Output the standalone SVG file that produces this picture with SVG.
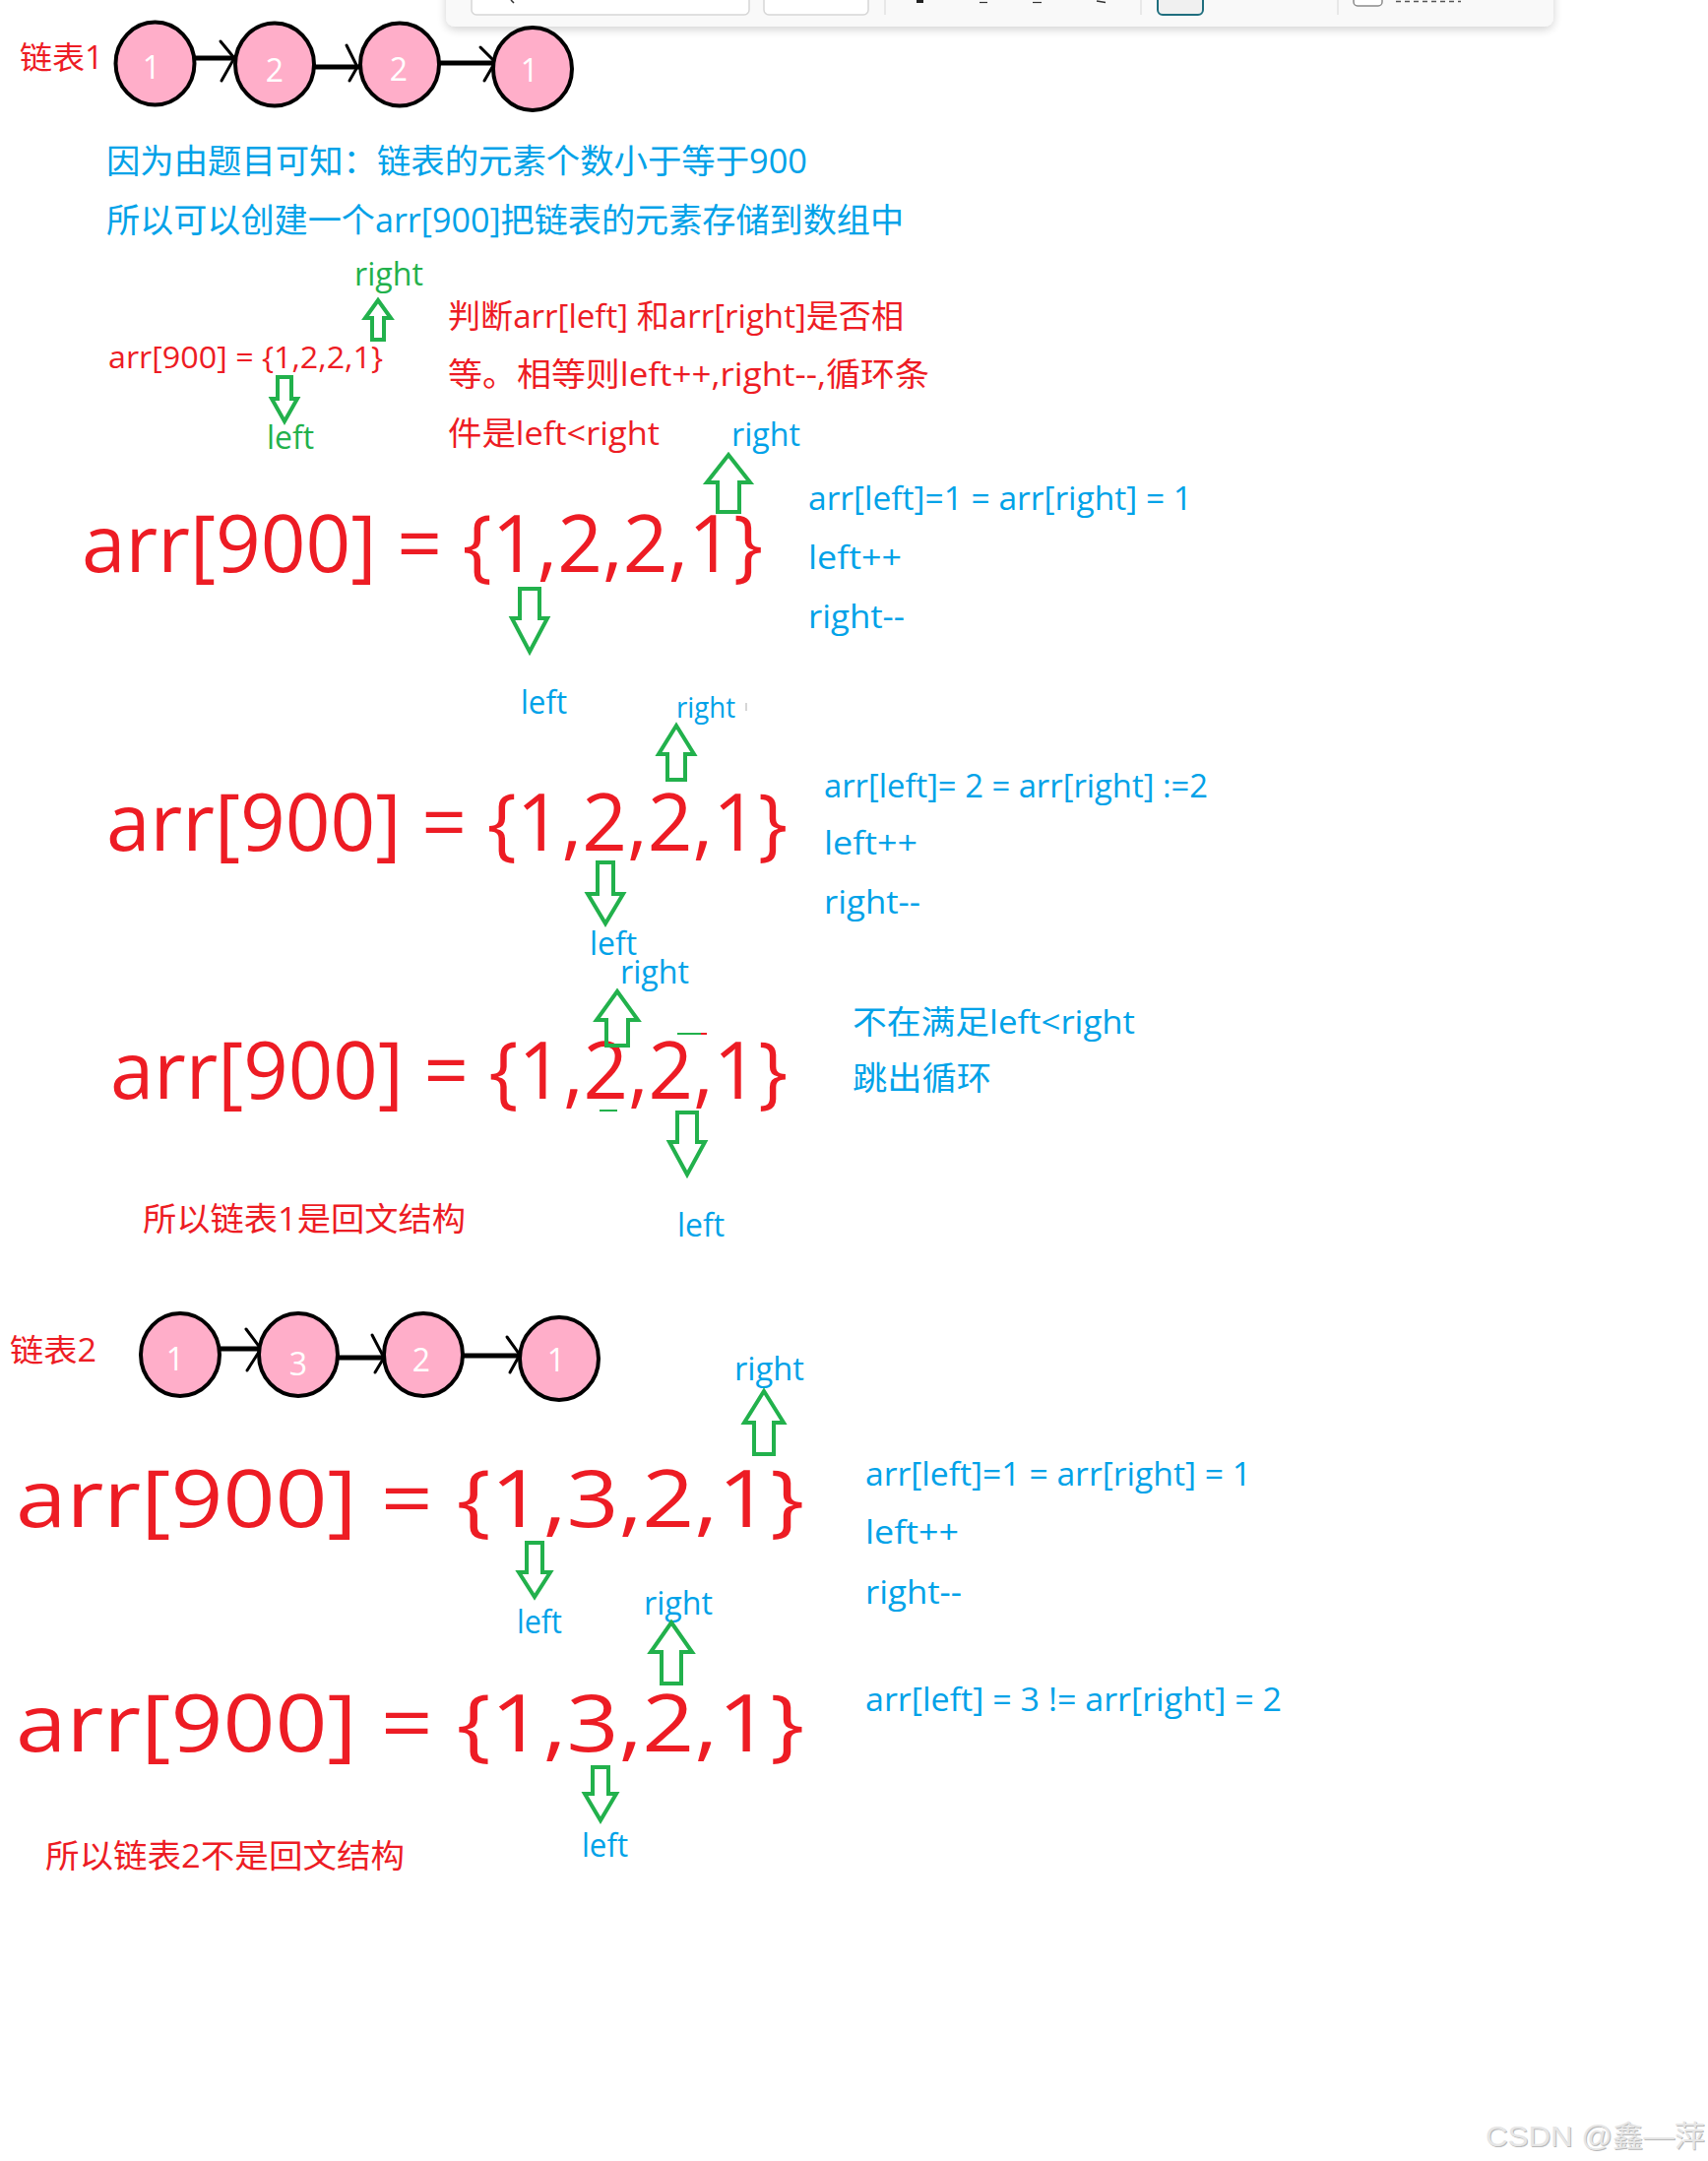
<svg xmlns="http://www.w3.org/2000/svg" width="1735" height="2195" viewBox="0 0 1735 2195">
<defs>
<filter id="sh" x="-5%" y="-50%" width="110%" height="250%">
<feGaussianBlur in="SourceAlpha" stdDeviation="5"/>
<feOffset dy="3"/>
<feComponentTransfer><feFuncA type="linear" slope="0.18"/></feComponentTransfer>
<feMerge><feMergeNode/><feMergeNode in="SourceGraphic"/></feMerge>
</filter>
</defs>
<style>
text{font-family:"Open Sans","Noto Sans CJK SC",sans-serif;}
.red{fill:#ED1C24;}
.blue{fill:#00A2E8;}
.green{fill:#22B14C;}
.s33{font-size:33px;}
.s32{font-size:32px;}
.big{font-size:80px;fill:#ED1C24;}
.node ellipse{fill:#FFAEC9;stroke:#000;stroke-width:4;}
.node text{fill:#fff;font-size:32px;text-anchor:middle;}
.link{stroke:#000;stroke-width:5;fill:none;}
.head{stroke:#000;stroke-width:3;fill:none;stroke-linecap:round;stroke-linejoin:miter;}
.ptr{fill:none;stroke:#22B14C;stroke-width:4;}
.tb{fill:#fff;stroke:#d6d6d6;stroke-width:1.5;}
.sep{stroke:#e2e2e2;stroke-width:1.5;}
.wm{font-family:"Liberation Sans","Noto Sans CJK SC",sans-serif;font-size:30px;}
</style>
<rect width="1735" height="2195" fill="#fff"/>

<g id="toolbar">
<rect x="453" y="-20" width="1125" height="47" rx="9" fill="#f9f9f9" filter="url(#sh)"/>
<rect x="479" y="-10" width="282" height="25" rx="5" class="tb"/>
<rect x="776" y="-10" width="106" height="25" rx="5" class="tb"/>
<line x1="899" y1="0" x2="899" y2="15" class="sep"/>
<line x1="1159" y1="0" x2="1159" y2="15" class="sep"/>
<line x1="1359" y1="0" x2="1359" y2="15" class="sep"/>
<rect x="1176" y="-10" width="46" height="25" rx="5" fill="#f0f0f0" stroke="#1f6e7e" stroke-width="2"/>
<rect x="1375" y="-10" width="29" height="16" rx="4" fill="#fff" stroke="#8a8a8a" stroke-width="1.5"/>
<line x1="519" y1="0" x2="522" y2="3" stroke="#333" stroke-width="1.5"/>
<rect x="931" y="0" width="7" height="3" fill="#222"/>
<line x1="995" y1="2.5" x2="1003" y2="2.5" stroke="#333" stroke-width="1.2"/>
<line x1="1049" y1="2.5" x2="1058" y2="2.5" stroke="#333" stroke-width="1.2"/>
<line x1="1114" y1="1" x2="1123" y2="2.5" stroke="#333" stroke-width="1.5"/>
<line x1="1418" y1="1.5" x2="1484" y2="1.5" stroke="#555" stroke-width="1.5" stroke-dasharray="5 4"/>
</g>

<g id="label-list1"><text x="20" y="70" class="red s32" textLength="85" lengthAdjust="spacingAndGlyphs">链表1</text></g>

<g id="connectors">
<line x1="197" y1="59" x2="238" y2="59" class="link"/>
<polyline points="224,42 238,59 225,82" class="head"/>
<line x1="319" y1="68" x2="365" y2="68" class="link"/>
<polyline points="352,46 363,68 355,82" class="head"/>
<line x1="446" y1="64" x2="502" y2="64" class="link"/>
<polyline points="488,48 503,63 492,82" class="head"/>

<line x1="222" y1="1370" x2="264" y2="1370" class="link"/>
<polyline points="250,1350 265,1370 251,1392" class="head"/>
<line x1="342" y1="1379" x2="390" y2="1379" class="link"/>
<polyline points="378,1356 390,1379 381,1394" class="head"/>
<line x1="471" y1="1377" x2="528" y2="1377" class="link"/>
<polyline points="515,1358 528,1376 518,1394" class="head"/>
</g>

<g id="n1-1" class="node"><ellipse cx="157.5" cy="64.5" rx="40" ry="42"/><text x="154" y="80">1</text></g>
<g id="n1-2" class="node"><ellipse cx="279" cy="65.5" rx="40" ry="42"/><text x="279" y="83">2</text></g>
<g id="n1-3" class="node"><ellipse cx="406" cy="65.5" rx="40" ry="42"/><text x="405" y="82">2</text></g>
<g id="n1-4" class="node"><ellipse cx="541" cy="70" rx="40" ry="42"/><text x="538" y="83">1</text></g>

<g id="intro">
<text x="108" y="176" class="blue" font-size="34" textLength="712" lengthAdjust="spacingAndGlyphs">因为由题目可知：链表的元素个数小于等于900</text>
<text x="108" y="236" class="blue" font-size="34" textLength="810" lengthAdjust="spacingAndGlyphs">所以可以创建一个arr[900]把链表的元素存储到数组中</text>
</g>

<g id="step0">
<text x="360" y="290" class="green s33" textLength="70" lengthAdjust="spacingAndGlyphs">right</text>
<text x="110" y="374" class="red" font-size="31" textLength="279" lengthAdjust="spacingAndGlyphs">arr[900] = {1,2,2,1}</text>
<text x="271" y="456" class="green s33" textLength="48" lengthAdjust="spacingAndGlyphs">left</text>
</g>

<g id="rule">
<text x="455" y="333" class="red s33" textLength="463" lengthAdjust="spacingAndGlyphs">判断arr[left] 和arr[right]是否相</text>
<text x="455" y="392" class="red s33" textLength="489" lengthAdjust="spacingAndGlyphs">等。相等则left++,right--,循环条</text>
<text x="455" y="452" class="red s33" textLength="215" lengthAdjust="spacingAndGlyphs">件是left&lt;right</text>
</g>

<g id="step1">
<text x="743" y="453" class="blue s33" textLength="70" lengthAdjust="spacingAndGlyphs">right</text>
<text x="83" y="581" class="big" textLength="692" lengthAdjust="spacingAndGlyphs">arr[900] = {1,2,2,1}</text>
<text x="821" y="518" class="blue s32" textLength="390" lengthAdjust="spacingAndGlyphs">arr[left]=1 = arr[right] = 1</text>
<text x="821" y="578" class="blue s32" textLength="95" lengthAdjust="spacingAndGlyphs">left++</text>
<text x="821" y="638" class="blue s32" textLength="98" lengthAdjust="spacingAndGlyphs">right--</text>
<text x="529" y="725" class="blue s33" textLength="47" lengthAdjust="spacingAndGlyphs">left</text>
</g>

<g id="step2">
<text x="687" y="729" class="blue" font-size="30" textLength="60" lengthAdjust="spacingAndGlyphs">right</text>
<line x1="758" y1="714" x2="758" y2="722" stroke="#c8c8c8" stroke-width="1.5"/>
<text x="108" y="864" class="big" textLength="692" lengthAdjust="spacingAndGlyphs">arr[900] = {1,2,2,1}</text>
<text x="837" y="810" class="blue s32" textLength="390" lengthAdjust="spacingAndGlyphs">arr[left]= 2 = arr[right] :=2</text>
<text x="837" y="868" class="blue s32" textLength="95" lengthAdjust="spacingAndGlyphs">left++</text>
<text x="837" y="928" class="blue s32" textLength="98" lengthAdjust="spacingAndGlyphs">right--</text>
<text x="599" y="970" class="blue s33" textLength="48" lengthAdjust="spacingAndGlyphs">left</text>
</g>

<g id="step3">
<text x="630" y="999" class="blue s33" textLength="70" lengthAdjust="spacingAndGlyphs">right</text>
<text x="112" y="1116" class="big" textLength="688" lengthAdjust="spacingAndGlyphs">arr[900] = {1,2,2,1}</text>
<line x1="688" y1="1050" x2="712" y2="1050" stroke="#22B14C" stroke-width="2"/>
<line x1="712" y1="1050" x2="718" y2="1050" stroke="#ED1C24" stroke-width="2"/>
<line x1="609" y1="1128" x2="627" y2="1128" stroke="#22B14C" stroke-width="2"/>
<text x="866" y="1050" class="blue s33" textLength="287" lengthAdjust="spacingAndGlyphs">不在满足left&lt;right</text>
<text x="866" y="1107" class="blue s33" textLength="141" lengthAdjust="spacingAndGlyphs">跳出循环</text>
<text x="145" y="1250" class="red s33" textLength="328" lengthAdjust="spacingAndGlyphs">所以链表1是回文结构</text>
<text x="688" y="1256" class="blue s33" textLength="48" lengthAdjust="spacingAndGlyphs">left</text>
</g>

<g id="label-list2"><text x="10" y="1383" class="red s32" textLength="88" lengthAdjust="spacingAndGlyphs">链表2</text></g>

<g id="n2-1" class="node"><ellipse cx="183" cy="1376" rx="40" ry="42"/><text x="178" y="1392">1</text></g>
<g id="n2-2" class="node"><ellipse cx="303" cy="1376" rx="40" ry="42"/><text x="303" y="1397">3</text></g>
<g id="n2-3" class="node"><ellipse cx="430" cy="1376" rx="40" ry="42"/><text x="428" y="1393">2</text></g>
<g id="n2-4" class="node"><ellipse cx="568" cy="1380" rx="40" ry="42"/><text x="565" y="1393">1</text></g>

<g id="step4">
<text x="746" y="1402" class="blue s33" textLength="71" lengthAdjust="spacingAndGlyphs">right</text>
<text x="16" y="1551" class="big" textLength="801" lengthAdjust="spacingAndGlyphs">arr[900] = {1,3,2,1}</text>
<text x="879" y="1509" class="blue s32" textLength="392" lengthAdjust="spacingAndGlyphs">arr[left]=1 = arr[right] = 1</text>
<text x="879" y="1568" class="blue s32" textLength="95" lengthAdjust="spacingAndGlyphs">left++</text>
<text x="879" y="1629" class="blue s32" textLength="98" lengthAdjust="spacingAndGlyphs">right--</text>
<text x="525" y="1659" class="blue s33" textLength="46" lengthAdjust="spacingAndGlyphs">left</text>
</g>

<g id="step5">
<text x="654" y="1640" class="blue s33" textLength="70" lengthAdjust="spacingAndGlyphs">right</text>
<text x="16" y="1779" class="big" textLength="801" lengthAdjust="spacingAndGlyphs">arr[900] = {1,3,2,1}</text>
<text x="879" y="1738" class="blue s32" textLength="423" lengthAdjust="spacingAndGlyphs">arr[left] = 3 != arr[right] = 2</text>
<text x="591" y="1886" class="blue s33" textLength="47" lengthAdjust="spacingAndGlyphs">left</text>
<text x="46" y="1897" class="red s33" textLength="365" lengthAdjust="spacingAndGlyphs">所以链表2不是回文结构</text>
</g>

<g id="pointers">
<path class="ptr" d="M384,305 L397,323 L390,323 L390,345 L378,345 L378,323 L371,323 Z"/>
<path class="ptr" d="M282,383 L296,383 L296,405 L302,405 L289,428 L276,405 L282,405 Z"/>
<path class="ptr" d="M740,462 L762,490 L751,490 L751,520 L729,520 L729,490 L718,490 Z"/>
<path class="ptr" d="M528,598 L548,598 L548,628 L556,628 L538,662 L520,628 L528,628 Z"/>
<path class="ptr" d="M687,737 L705,766 L696,766 L696,792 L678,792 L678,766 L669,766 Z"/>
<path class="ptr" d="M607,876 L623,876 L623,908 L633,908 L615,938 L597,908 L607,908 Z"/>
<path class="ptr" d="M627,1007 L648,1036 L638,1036 L638,1062 L616,1062 L616,1036 L606,1036 Z"/>
<path class="ptr" d="M688,1130 L708,1130 L708,1160 L716,1160 L698,1193 L680,1160 L688,1160 Z"/>
<path class="ptr" d="M776,1413 L796,1445 L786,1445 L786,1477 L766,1477 L766,1445 L756,1445 Z"/>
<path class="ptr" d="M535,1567 L551,1567 L551,1597 L559,1597 L543,1622 L527,1597 L535,1597 Z"/>
<path class="ptr" d="M682,1648 L703,1678 L692,1678 L692,1710 L672,1710 L672,1678 L661,1678 Z"/>
<path class="ptr" d="M602,1795 L618,1795 L618,1822 L626,1822 L610,1849 L594,1822 L602,1822 Z"/>
</g>

<g id="watermark">
<text x="1510" y="2181" class="wm" fill="#b8b8b8" textLength="223" lengthAdjust="spacingAndGlyphs">CSDN @鑫—萍</text>
<text x="1509" y="2180" class="wm" fill="#e6e6e6" textLength="223" lengthAdjust="spacingAndGlyphs">CSDN @鑫—萍</text>
</g>
</svg>
